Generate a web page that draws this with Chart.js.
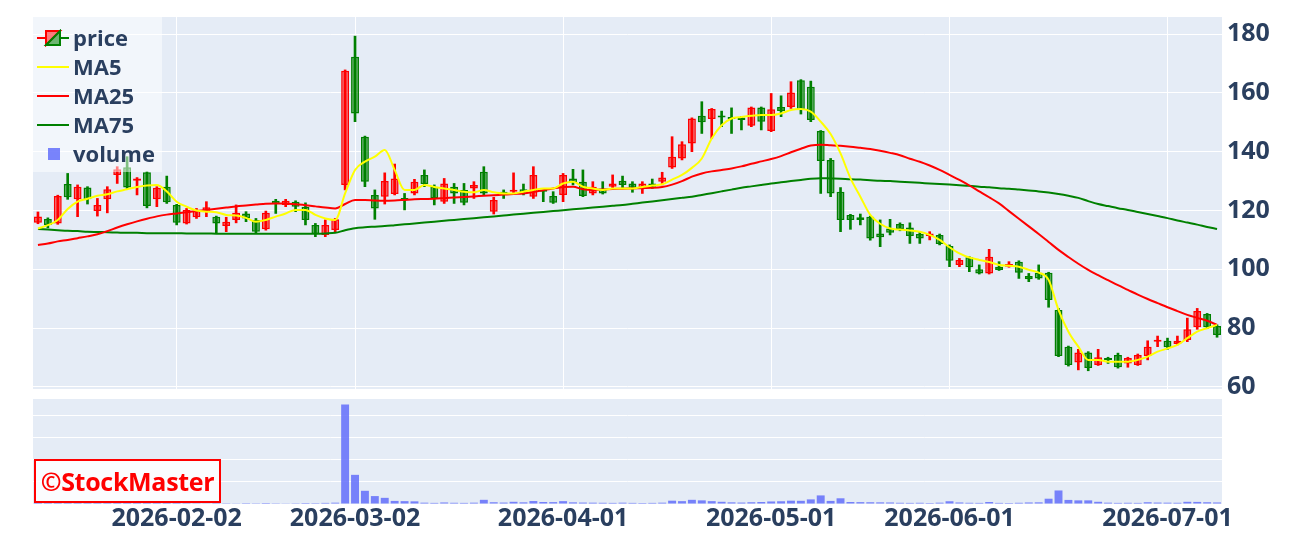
<!DOCTYPE html>
<html>
<head>
<meta charset="utf-8">
<script src="https://cdn.jsdelivr.net/npm/chart.js@4.4.1/dist/chart.umd.min.js"></script>
<style>
  html, body { margin: 0; padding: 0; background: #fff; }
  #wrap { position: relative; width: 1291px; height: 543px; overflow: hidden; font-family: "Open Sans", sans-serif; }
  #priceCanvas { position: absolute; left: 0; top: 0; }
  #volCanvas { position: absolute; left: 0; top: 399px; }
  #legend { position: absolute; left: 33px; top: 17px; width: 129px; height: 155px; background: rgba(255,255,255,0.5); }
  .item { position: absolute; left: 0; height: 29px; width: 129px; }
  .item svg { position: absolute; left: 4px; top: 6px; }
  .item span { position: absolute; left: 40px; top: 0; line-height: 29px; font-weight: bold; font-size: 22px; color: #2a3f5f; }
  #mark { position: absolute; left: 34px; top: 459px; width: 183px; height: 40px; border: 2px solid #ff0000; background: rgba(255,255,255,0.85);
          color: #ff0000; font-weight: bold; font-size: 25px; line-height: 40px; text-align: center; letter-spacing: -0.3px; }
</style>
</head>
<body>
<div id="wrap">
  <canvas id="priceCanvas" width="1291" height="400"></canvas>
  <canvas id="volCanvas" width="1291" height="144"></canvas>
  <div id="legend">
    <div class="item" style="top:6px">
      <svg width="32" height="18"><line x1="0" y1="9" x2="9" y2="9" stroke="#ff0000" stroke-width="2"/><line x1="23" y1="9" x2="32" y2="9" stroke="#008000" stroke-width="2"/>
        <polygon points="9,2 23,2 9,16" fill="rgba(255,0,0,0.5)" stroke="#ff0000" stroke-width="2"/><polygon points="23,2 23,16 9,16" fill="rgba(0,128,0,0.55)" stroke="#008000" stroke-width="2"/></svg>
      <span>price</span>
    </div>
    <div class="item" style="top:35px"><svg width="32" height="18"><line x1="0" y1="9" x2="32" y2="9" stroke="#ffff00" stroke-width="2"/></svg><span>MA5</span></div>
    <div class="item" style="top:64px"><svg width="32" height="18"><line x1="0" y1="9" x2="32" y2="9" stroke="#ff0000" stroke-width="2"/></svg><span>MA25</span></div>
    <div class="item" style="top:93px"><svg width="32" height="18"><line x1="0" y1="9" x2="32" y2="9" stroke="#008000" stroke-width="2"/></svg><span>MA75</span></div>
    <div class="item" style="top:122px"><svg width="32" height="18"><rect x="11" y="3" width="12" height="12" fill="rgba(99,110,250,0.85)"/></svg><span>volume</span></div>
  </div>
  <div id="mark">©StockMaster</div>
</div>
<script>
// 取引日 (東証)
const dates = [
  '2026-01-13','2026-01-14','2026-01-15','2026-01-16','2026-01-19','2026-01-20','2026-01-21','2026-01-22','2026-01-23','2026-01-26',
  '2026-01-27','2026-01-28','2026-01-29','2026-01-30','2026-02-02','2026-02-03','2026-02-04','2026-02-05','2026-02-06','2026-02-09',
  '2026-02-10','2026-02-12','2026-02-13','2026-02-16','2026-02-17','2026-02-18','2026-02-19','2026-02-20','2026-02-24','2026-02-25',
  '2026-02-26','2026-02-27','2026-03-02','2026-03-03','2026-03-04','2026-03-05','2026-03-06','2026-03-09','2026-03-10','2026-03-11',
  '2026-03-12','2026-03-13','2026-03-16','2026-03-17','2026-03-18','2026-03-19','2026-03-23','2026-03-24','2026-03-25','2026-03-26',
  '2026-03-27','2026-03-30','2026-03-31','2026-04-01','2026-04-02','2026-04-03','2026-04-06','2026-04-07','2026-04-08','2026-04-09',
  '2026-04-10','2026-04-13','2026-04-14','2026-04-15','2026-04-16','2026-04-17','2026-04-20','2026-04-21','2026-04-22','2026-04-23',
  '2026-04-24','2026-04-27','2026-04-28','2026-04-30','2026-05-01','2026-05-07','2026-05-08','2026-05-11','2026-05-12','2026-05-13',
  '2026-05-14','2026-05-15','2026-05-18','2026-05-19','2026-05-20','2026-05-21','2026-05-22','2026-05-25','2026-05-26','2026-05-27',
  '2026-05-28','2026-05-29','2026-06-01','2026-06-02','2026-06-03','2026-06-04','2026-06-05','2026-06-08','2026-06-09','2026-06-10',
  '2026-06-11','2026-06-12','2026-06-15','2026-06-16','2026-06-17','2026-06-18','2026-06-19','2026-06-22','2026-06-23','2026-06-24',
  '2026-06-25','2026-06-26','2026-06-29','2026-06-30','2026-07-01','2026-07-02','2026-07-03','2026-07-06','2026-07-07','2026-07-08'
];

const open = [
  115.8,117.1,115.6,129.0,123.8,127.8,119.8,123.8,132.1,134.7, 130.1,133.0,123.8,128.1,121.9,115.6,117.7,119.6,117.9,114.7,
  116.8,119.0,116.8,113.6,123.3,121.9,123.0,121.3,115.1,111.7, 113.4,128.7,172.3,145.1,125.3,124.7,125.6,124.1,125.8,132.1,
  128.1,123.0,128.1,127.0,127.5,133.2,119.6,126.4,126.4,127.2, 124.7,126.7,124.9,125.3,130.9,129.8,125.8,127.5,128.1,130.1,
  129.2,127.5,129.2,129.8,134.6,137.7,142.8,152.2,151.1,152.2, 151.6,151.6,148.8,155.0,147.0,155.2,155.2,164.3,162.1,147.0,
  137.2,126.4,118.5,117.7,117.9,112.2,113.9,115.4,114.2,112.0, 111.3,111.7,107.9,101.5,104.1,100.0,98.6,100.9,100.9,102.6,
  97.7,98.8,98.8,86.2,73.7,68.3,71.7,67.5,69.8,70.9, 68.0,67.5,70.5,75.4,75.7,74.6,76.0,80.3,84.8,80.7
];
const high = [
  119.5,117.5,125.2,132.6,128.7,128.1,124.1,128.1,134.9,138.3, 131.2,133.2,128.1,131.7,122.1,120.7,120.7,123.0,118.1,117.7,
  121.9,119.6,117.3,119.8,123.8,123.8,123.3,122.6,115.6,116.8, 117.3,167.8,179.3,145.3,127.0,132.8,135.8,125.8,130.6,133.8,
  128.7,130.9,129.2,129.2,129.8,134.9,124.5,127.0,132.8,129.0, 134.9,126.9,126.4,132.6,134.0,133.8,129.8,129.8,132.1,131.7,
  129.8,129.8,130.7,133.0,145.1,143.4,151.5,157.0,154.7,153.8, 154.9,152.0,155.2,155.2,159.8,159.0,163.8,164.5,164.0,147.2,
  137.7,127.8,118.7,118.8,118.1,116.8,117.0,115.8,115.8,112.8, 112.8,112.0,108.3,103.7,104.3,101.5,106.8,102.6,102.6,102.9,
  98.6,101.5,99.0,86.7,73.9,72.8,72.0,72.8,70.1,71.5, 70.1,71.2,75.7,77.3,76.6,77.3,83.4,86.7,85.0,81.1
];
const low = [
  115.5,114.1,115.3,123.8,117.9,122.2,118.1,119.2,129.2,127.5, 125.3,120.9,121.3,122.4,115.1,115.4,117.3,117.9,112.2,112.8,
  115.8,116.2,112.4,113.3,119.0,121.3,119.6,115.1,111.1,111.1, 112.8,127.0,150.2,128.1,117.0,122.2,125.3,120.2,125.3,128.1,
  121.9,122.4,122.4,121.9,124.1,125.3,118.8,124.1,125.8,125.3, 124.1,123.0,122.4,123.0,128.7,124.7,125.3,125.6,127.5,127.8,
  126.2,125.8,127.5,128.7,134.3,137.2,140.0,146.2,144.5,148.5, 146.2,147.4,148.5,147.4,146.8,151.9,154.7,152.8,150.2,125.8,
  124.7,112.8,113.6,115.1,109.9,107.7,111.7,113.1,108.8,108.8, 110.0,108.3,100.9,100.9,99.2,98.4,98.4,99.6,100.7,96.9,
  95.8,96.6,87.1,70.3,67.1,65.8,65.5,67.3,68.0,66.4, 66.7,67.3,69.2,73.7,72.8,74.3,75.4,79.6,79.8,76.9
];
const close = [
  118.0,115.1,124.9,124.5,128.1,123.8,121.9,127.2,134.0,127.8, 130.9,121.5,127.7,122.8,115.8,120.2,119.9,121.1,115.6,116.2,
  119.2,117.3,112.8,119.2,122.2,123.3,121.3,116.8,112.0,115.1, 117.0,167.5,153.0,129.8,120.7,130.0,130.9,123.6,129.8,129.0,
  124.1,129.2,125.8,122.6,128.7,125.8,123.6,125.6,127.0,126.1, 132.1,126.4,122.6,132.1,129.4,124.9,128.1,125.8,129.2,128.7,
  127.7,129.2,128.1,131.2,138.3,142.5,151.3,150.0,154.5,151.6, 151.1,150.8,155.0,150.2,154.4,153.8,160.1,154.2,150.8,136.8,
  125.8,116.8,116.8,116.8,110.5,110.9,112.4,113.6,111.3,110.5, 112.2,108.6,102.9,103.2,100.7,98.6,104.3,99.8,101.8,98.8,
  96.6,96.9,89.6,70.5,67.5,71.7,66.4,70.1,69.2,66.7, 69.8,70.9,73.7,76.0,73.5,75.7,79.6,85.8,80.3,77.7
];

const ma5 = [
  113.9,115.0,116.8,120.5,123.0,124.0,125.0,125.5,126.5,127.2, 128.0,128.5,128.7,126.5,123.0,121.3,120.0,119.6,119.4,118.5,
  118.3,117.5,116.2,116.8,117.9,119.0,120.2,120.2,118.5,117.3, 116.8,125.8,133.8,136.6,138.3,140.6,133.8,127.0,127.0,128.7,
  128.0,127.5,127.0,126.4,126.2,127.0,126.2,125.8,125.8,126.4, 127.0,127.5,127.5,129.2,129.8,128.1,127.5,127.0,127.5,127.5,
  127.5,128.0,128.5,128.9,130.5,132.1,134.5,137.7,144.5,149.0, 151.3,151.8,152.2,152.5,152.5,153.0,154.2,154.5,153.6,150.2,
  146.0,139.4,131.0,124.7,118.5,115.5,113.9,113.5,113.2,112.8, 111.7,110.0,107.5,105.4,104.0,103.2,102.5,101.5,101.2,100.9,
  99.8,98.9,96.4,86.2,78.8,73.7,69.2,69.2,68.6,68.6, 68.6,69.2,70.3,72.0,73.1,74.3,76.6,78.8,80.0,81.1
];
const ma25 = [
  108.3,108.8,109.5,110.0,110.6,111.2,111.9,113.0,114.2,115.3, 116.3,117.2,118.0,118.6,119.0,119.4,119.8,120.2,120.6,121.0,
  121.4,121.7,122.0,122.3,122.4,122.4,122.1,121.8,121.4,121.0, 120.7,122.2,123.6,123.6,123.4,123.3,123.4,123.6,123.8,123.9,
  124.0,124.2,124.4,124.6,124.8,125.0,125.2,125.4,125.6,125.8, 126.3,126.9,127.5,128.0,128.1,127.2,127.0,127.1,127.3,127.4,
  127.5,127.6,127.7,128.0,128.8,130.0,131.5,132.6,133.3,133.8, 134.3,135.0,135.9,136.7,137.5,138.5,139.8,141.0,142.1,142.4,
  142.2,142.0,141.7,141.3,140.9,140.3,139.6,138.8,137.6,136.6, 135.3,133.8,132.1,130.4,128.5,126.5,124.5,122.4,119.8,117.2,
  114.6,112.0,109.3,106.6,104.2,101.9,99.8,98.0,96.3,94.6, 93.0,91.4,89.9,88.5,87.1,85.8,84.5,83.5,82.5,81.1
];
const ma75 = [
  113.7,113.5,113.3,113.1,113.0,112.8,112.7,112.6,112.5,112.4, 112.4,112.3,112.3,112.3,112.3,112.2,112.2,112.2,112.1,112.1,
  112.1,112.1,112.1,112.1,112.1,112.1,112.1,112.1,112.1,112.2, 112.4,113.3,114.0,114.3,114.5,114.7,115.0,115.3,115.6,115.9,
  116.2,116.5,116.8,117.1,117.4,117.7,118.0,118.3,118.6,118.9, 119.2,119.5,119.8,120.1,120.4,120.7,121.0,121.3,121.6,121.9,
  122.3,122.7,123.1,123.5,123.9,124.3,124.7,125.3,125.9,126.5, 127.1,127.7,128.2,128.7,129.2,129.6,130.0,130.4,130.8,131.0,
  130.9,130.8,130.6,130.5,130.3,130.1,130.0,129.8,129.6,129.4, 129.2,129.0,128.8,128.6,128.4,128.1,127.9,127.6,127.4,127.1,
  126.8,126.5,126.1,125.6,125.0,124.3,123.2,122.2,121.5,120.8, 120.2,119.5,118.8,118.1,117.4,116.6,115.9,115.2,114.4,113.7
];
// 出来高 (千株)
const volume = [
  130,90,200,180,110,100,120,90,170,160, 110,150,90,100,90,80,70,60,80,70,
  60,80,70,90,70,60,70,90,80,100, 120,9050,2650,1200,720,560,280,260,240,120,
  100,140,110,100,120,380,160,130,200,150, 270,180,170,260,150,130,120,110,100,120,
  100,90,100,120,300,260,380,330,260,200, 150,130,160,180,230,250,300,290,420,780,
  280,520,180,170,160,150,140,110,100,110, 90,120,250,140,110,100,180,100,90,110,
  140,150,480,1230,370,330,330,200,120,100, 110,100,160,130,120,110,200,190,160,140
];

const tickDates = ['2026-02-02','2026-03-02','2026-04-01','2026-05-01','2026-06-01','2026-07-01'];
const priceTicks = [60, 80, 100, 120, 140, 160, 180];
const volTicks = [0, 2000, 4000, 6000, 8000];

const UP = '#ff0000', DOWN = '#008000';
const upDown = close.map((c, i) => c >= open[i]);

const fondo = {
  id: 'fondo',
  beforeDraw(chart) {
    const { ctx, chartArea: a } = chart;
    ctx.save();
    ctx.fillStyle = '#E5ECF6';
    ctx.fillRect(a.left, a.top, a.right - a.left, a.bottom - a.top);
    ctx.restore();
  }
};

const fontTick = { family: '"Open Sans", sans-serif', size: 25, weight: 'bold' };

new Chart(document.getElementById('priceCanvas'), {
  type: 'bar',
  data: {
    labels: dates,
    datasets: [
      { type: 'line', label: 'MA5', data: ma5, borderColor: '#ffff00', borderWidth: 2, pointRadius: 0, cubicInterpolationMode: 'monotone', order: 0 },
      { type: 'line', label: 'MA25', data: ma25, borderColor: '#ff0000', borderWidth: 2, pointRadius: 0, cubicInterpolationMode: 'monotone', order: 1 },
      { type: 'line', label: 'MA75', data: ma75, borderColor: '#008000', borderWidth: 2, pointRadius: 0, cubicInterpolationMode: 'monotone', order: 2 },
      {
        label: 'body', order: 3, grouped: false,
        data: open.map((o, i) => [o, close[i]]),
        backgroundColor: upDown.map(u => u ? 'rgba(255,0,0,0.55)' : 'rgba(0,128,0,0.6)'),
        borderColor: upDown.map(u => u ? UP : DOWN),
        borderWidth: 1.5, borderSkipped: false, minBarLength: 2,
        barPercentage: 0.8, categoryPercentage: 1
      },
      {
        label: 'wick', order: 4, grouped: false,
        data: low.map((l, i) => [l, high[i]]),
        backgroundColor: upDown.map(u => u ? UP : DOWN),
        barThickness: 2
      }
    ]
  },
  plugins: [fondo],
  options: {
    responsive: false,
    animation: false,
    layout: { padding: { top: 17, left: 33, right: 0, bottom: 11 } },
    plugins: { legend: { display: false }, tooltip: { enabled: false } },
    scales: {
      x: {
        type: 'category', offset: true,
        ticks: { display: false, autoSkip: false },
        grid: { offset: false, drawTicks: false, color: c => tickDates.includes(dates[c.index]) ? '#ffffff' : 'rgba(0,0,0,0)' },
        border: { display: false },
        afterFit: s => { s.height = 0; }
      },
      y: {
        position: 'right', min: 59.3, max: 185.8,
        afterBuildTicks: s => { s.ticks = priceTicks.map(v => ({ value: v })); },
        ticks: { font: { ...fontTick, lineHeight: 0.4 }, color: '#2a3f5f', padding: 5 },
        grid: { color: '#ffffff', drawTicks: false },
        border: { display: false },
        afterFit: s => { s.width = 69; }
      }
    }
  }
});

new Chart(document.getElementById('volCanvas'), {
  type: 'bar',
  data: {
    labels: dates,
    datasets: [{
      label: 'volume', data: volume,
      backgroundColor: 'rgba(99,110,250,0.85)',
      barPercentage: 0.8, categoryPercentage: 1
    }]
  },
  plugins: [fondo],
  options: {
    responsive: false,
    animation: false,
    layout: { padding: { top: 0, left: 33, right: 0, bottom: 0 } },
    plugins: { legend: { display: false }, tooltip: { enabled: false } },
    scales: {
      x: {
        type: 'category', offset: true,
        ticks: {
          autoSkip: false, maxRotation: 0, font: fontTick, color: '#2a3f5f', padding: 0,
          callback: (v, i) => tickDates.includes(dates[i]) ? dates[i] : null
        },
        grid: { display: false, drawTicks: false },
        border: { display: false },
        afterFit: s => { s.height = 39; }
      },
      y: {
        position: 'right', min: 0, max: 9545,
        afterBuildTicks: s => { s.ticks = volTicks.map(v => ({ value: v })); },
        ticks: { display: false },
        grid: { color: '#ffffff', drawTicks: false },
        border: { display: false },
        afterFit: s => { s.width = 69; }
      }
    }
  }
});
</script>
</body>
</html>
